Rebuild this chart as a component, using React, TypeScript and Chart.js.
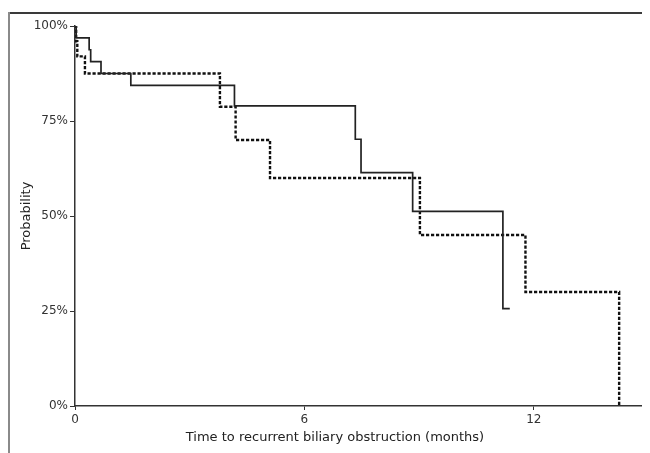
import React, { useEffect, useRef } from "react";
import { Chart, registerables } from "chart.js";

Chart.register(...registerables);

// Kaplan–Meier step points: [time (months), survival %]
const solidTimes = [0, 0.03, 0.37, 0.41, 0.68, 1.46, 4.17, 7.33, 7.48, 8.83, 11.19, 11.37];
const solidValues = [100, 96.9, 93.75, 90.6, 87.5, 84.4, 79, 70.2, 61.4, 51.2, 25.6, 25.6];

const dashedTimes = [0, 0.03, 0.06, 0.26, 3.79, 4.2, 5.1, 9.02, 11.78, 14.23];
const dashedValues = [100, 96, 92, 87.5, 78.75, 70, 60, 45, 30, 0];

const xTicks = [0, 6, 12];
const yTicks = [0, 25, 50, 75, 100];

const xTitle = "Time to recurrent biliary obstruction (months)";
const yTitle = "Probability";

const FAMILY = "'DejaVu Sans', Verdana, sans-serif";

const xTitlePlugin = {
  id: "xTitlePlugin",
  afterDraw(chart: any) {
    const ctx = chart.ctx;
    ctx.save();
    ctx.font = `13px ${FAMILY}`;
    ctx.fillStyle = "#222";
    ctx.textAlign = "center";
    ctx.textBaseline = "middle";
    ctx.fillText(xTitle, chart.width / 2 + 6, chart.height - 15);
    ctx.restore();
  },
};

export default function App() {
  const ref = useRef<HTMLCanvasElement | null>(null);

  useEffect(() => {
    document.documentElement.style.overflow = "hidden";
    const canvas = ref.current;
    if (!canvas) return;
    const font = { family: FAMILY, size: 12 };
    const chart = new Chart(canvas, {
      type: "line",
      data: {
        datasets: [
          {
            data: solidTimes.map((t, i) => ({ x: t, y: solidValues[i] })),
            borderColor: "#222",
            borderWidth: 1.7,
            stepped: "before",
            pointRadius: 0,
            fill: false,
          },
          {
            data: dashedTimes.map((t, i) => ({ x: t, y: dashedValues[i] })),
            borderColor: "#111",
            borderWidth: 2.4,
            borderDash: [3.2, 1.8],
            stepped: "before",
            pointRadius: 0,
            fill: false,
          },
        ],
      },
      plugins: [xTitlePlugin],
      options: {
        animation: false,
        responsive: false,
        layout: { padding: { left: 0, right: 6, top: 18, bottom: 0 } },
        plugins: { legend: { display: false }, tooltip: { enabled: false } },
        scales: {
          x: {
            type: "linear",
            min: 0,
            max: 14.88,
            afterBuildTicks: (s: any) => {
              s.ticks = xTicks.map((v) => ({ value: v }));
            },
            afterFit: (s: any) => {
              s.height = 47;
            },
            grid: { drawOnChartArea: false, drawTicks: true, tickLength: 4, color: "#333" },
            border: { display: true, color: "#333", width: 1.5 },
            ticks: { color: "#333", font, padding: 3, maxRotation: 0, autoSkip: false },
            title: { display: false },
          },
          y: {
            type: "linear",
            min: 0,
            max: 100,
            afterBuildTicks: (s: any) => {
              s.ticks = yTicks.map((v) => ({ value: v }));
            },
            afterFit: (s: any) => {
              s.width = 67;
            },
            grid: { drawOnChartArea: false, drawTicks: true, tickLength: 5, color: "#333" },
            border: { display: true, color: "#333", width: 1.5 },
            ticks: {
              color: "#333",
              font,
              padding: 2,
              callback: (v: any) => v + "%",
            },
            title: {
              display: true,
              text: yTitle,
              color: "#222",
              font: { family: FAMILY, size: 13 },
              padding: { top: 11, bottom: 0 },
            },
          },
        },
      },
    });
    return () => chart.destroy();
  }, []);

  return (
    <div style={{ position: "relative", width: 642, height: 445 }}>
      <div style={{ position: "absolute", left: 0, top: 4, width: 642, height: 1.5, background: "#3a3a3a" }} />
      <div style={{ position: "absolute", left: 0, top: 4, width: 2, height: 441, background: "#8a8a8a" }} />
      <canvas ref={ref} width={642} height={445} style={{ position: "absolute", left: 0, top: 0, width: 642, height: 445 }} />
    </div>
  );
}
